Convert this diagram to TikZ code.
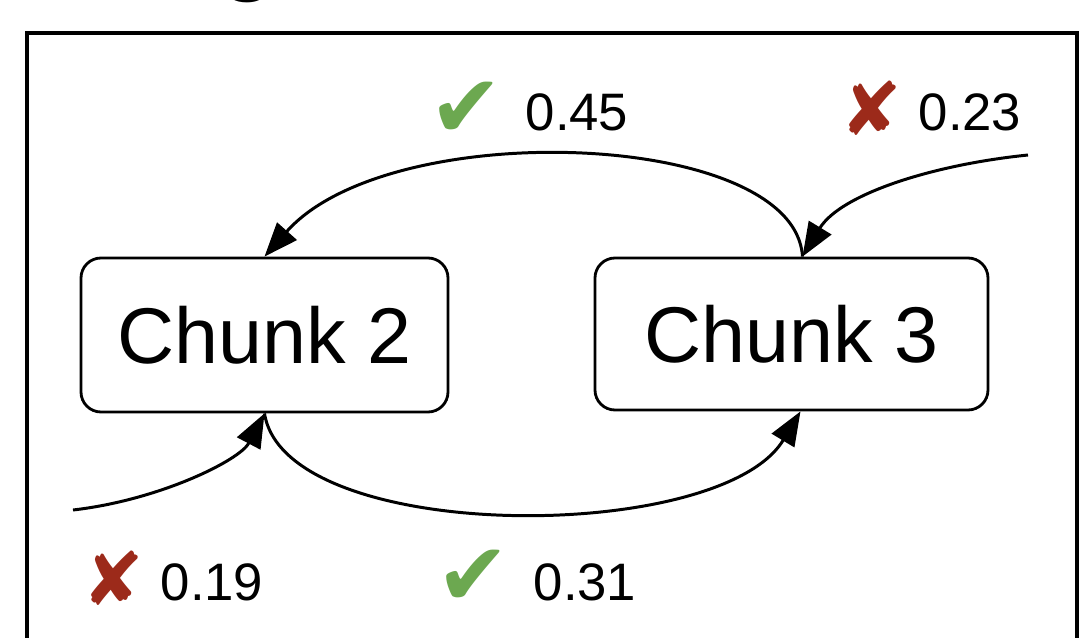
\documentclass[tikz,border=0pt]{standalone}
\usepackage{fontspec}
\setmainfont{Liberation Sans}
\newfontfamily\symfont{DejaVu Sans}
\usetikzlibrary{arrows.meta}
\definecolor{okgreen}{RGB}{108,168,80}
\definecolor{badred}{RGB}{156,42,26}
\tikzset{
	chunk/.style={draw, line width=0.8pt, rounded corners=2mm, minimum width=36.7mm, minimum height=15.4mm, font=\fontsize{22.5}{26}\selectfont},
	link/.style={line width=0.85pt, -{Triangle[length=3.4mm, width=2.6mm]}},
	score/.style={anchor=base west, inner sep=0pt, font=\fontsize{15}{18}\selectfont},
	goodsym/.style={inner sep=0pt, text=okgreen, font=\symfont\fontsize{25}{28}\selectfont},
	badsym/.style={inner sep=0pt, text=badred, font=\symfont\fontsize{21}{24}\selectfont},
}
\begin{document}
\begin{tikzpicture}[x=0.1mm, y=-0.1mm]
	\useasboundingbox (0,0) rectangle (1081,637);
	\clip (0,0) rectangle (1081,637);
	\node[anchor=base, inner sep=0pt, font=\bfseries\fontsize{26}{30}\selectfont] (ttl) at (248,-17) {g};
	\draw[line width=0.9pt] (27,33) rectangle (1077,700);
	
	\node[chunk] (c2) at (264.5,335) {Chunk 2};
	\node[chunk, minimum width=39.3mm, minimum height=15.2mm] (c3) at (791.5,334) {Chunk 3};
	
	\coordinate (inR) at (1028,155);
	\coordinate (inL) at (73,510);
	
	\draw[link] ([xshift=1.1mm]c3.north) .. controls (795,130) and (390,115) .. (c2.north);
	\draw[link] (inR) .. controls (930,165) and (840,195) .. ([xshift=1.1mm]c3.north);
	\draw[link] (inL) .. controls (160,500) and (240,460) .. (c2.south);
	\draw[link] (c2.south) .. controls (285,545) and (720,545) .. ([xshift=0.9mm]c3.south);
	
	\node[goodsym] (ok1) at (466,110) {✔};
	\node[score] (v1) at (525,130) {0.45};
	\node[badsym] (no1) at (871,108) {✘};
	\node[score] (v2) at (918,130) {0.23};
	\node[badsym] (no2) at (113,578) {✘};
	\node[score] (v3) at (160,600) {0.19};
	\node[goodsym] (ok2) at (473,578) {✔};
	\node[score] (v4) at (533,600) {0.31};
\end{tikzpicture}
\end{document}
